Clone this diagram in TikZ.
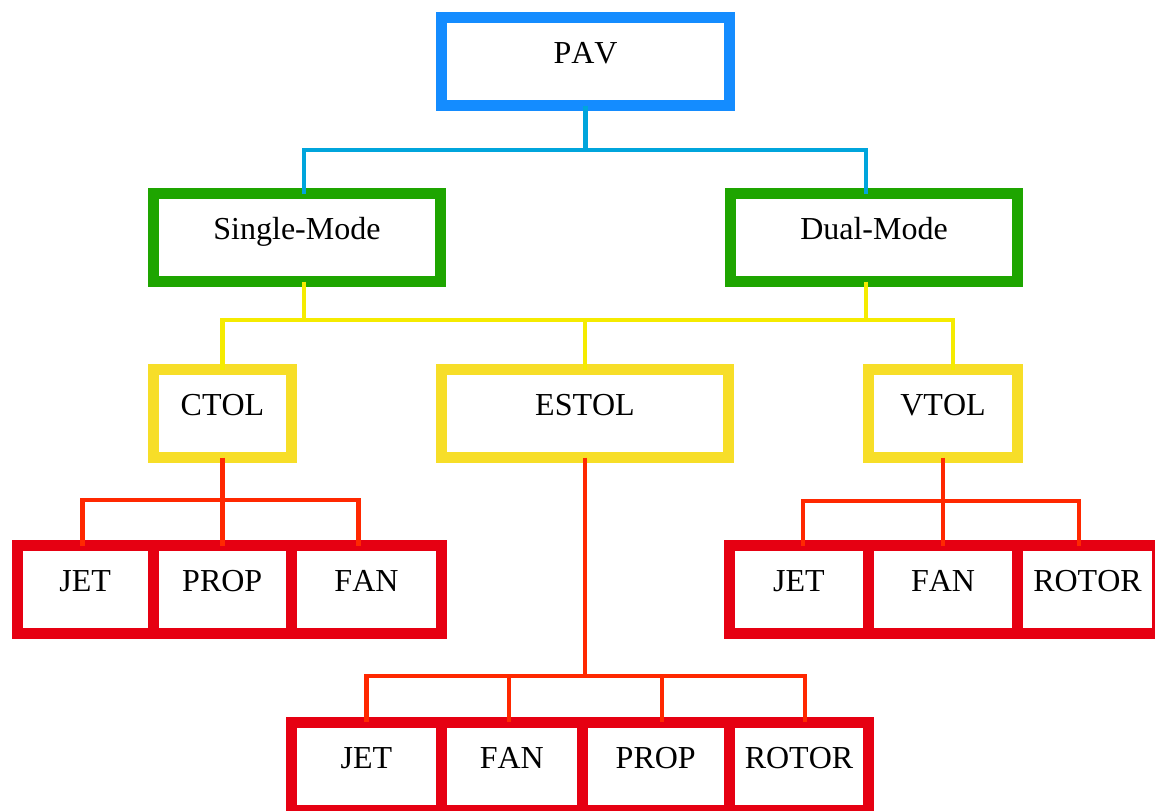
\documentclass[tikz,border=0pt]{standalone}
\usepackage{fontspec}
\setmainfont[Kerning=Off]{Liberation Serif}
\usetikzlibrary{positioning}
\definecolor{pavblue}{RGB}{20,140,255}
\definecolor{wireblue}{RGB}{0,165,220}
\definecolor{modegreen}{RGB}{30,165,0}
\definecolor{tolyellow}{RGB}{247,222,40}
\definecolor{wireyellow}{RGB}{245,235,0}
\definecolor{engred}{RGB}{230,0,18}
\definecolor{wirered}{RGB}{255,40,0}

\begin{document}
\begin{tikzpicture}[x=0.5pt,y=-0.5pt,
   box/.style={draw,line width=5.5pt,rectangle,minimum height=44pt,outer sep=0pt,inner sep=0pt,
      text height=10.6pt,text depth=8.5pt,font=\fontsize{16}{18}\selectfont},
   bluebox/.style={box,draw=pavblue},
   greenbox/.style={box,draw=modegreen},
   yellowbox/.style={box,draw=tolyellow},
   redbox/.style={box,draw=engred},
   wireB/.style={draw=wireblue,line width=2.25pt},
   wireY/.style={draw=wireyellow,line width=2.25pt},
   wireR/.style={draw=wirered,line width=2.25pt}]
   \useasboundingbox (0,0) rectangle (1155,810);
   \node[bluebox,minimum width=144pt] (PAV) at (585.5,61.5) {PAV};
   \node[greenbox,minimum width=143.5pt] (SM) at (297,237.5) {Single-Mode};
   \node[greenbox,minimum width=143.5pt] (DM) at (874,237.5) {Dual-Mode};
   \node[yellowbox,minimum width=69pt] (CTOL) at (222.5,413.5) {CTOL};
   \node[yellowbox,minimum width=143.5pt] (ESTOL) at (585,413.5) {ESTOL};
   \node[yellowbox,minimum width=74.5pt] (VTOL) at (943,413.5) {VTOL};
   % CTOL row
   \node[redbox,minimum width=67.75pt] (CJ) at (85.25,589.5) {JET};
   \node[redbox,minimum width=69.25pt] (CP) [right=0pt of CJ] {PROP};
   \node[redbox,minimum width=75pt] (CF) [right=0pt of CP] {FAN};
   % VTOL row
   \node[redbox,minimum width=69.5pt] (VJ) at (799,589.5) {JET};
   \node[redbox,minimum width=74.5pt] (VF) [right=0pt of VJ] {FAN};
   \node[redbox,minimum width=70pt] (VR) [right=0pt of VF] {ROTOR};
   % ESTOL row
   \node[redbox,minimum width=75pt] (EJ) at (366.5,766) {JET};
   \node[redbox,minimum width=70.25pt] (EF) [right=0pt of EJ] {FAN};
   \node[redbox,minimum width=73.75pt] (EP) [right=0pt of EF] {PROP};
   \node[redbox,minimum width=69.5pt] (ER) [right=0pt of EP] {ROTOR};

   \coordinate (SMin) at ([xshift=3.5pt]SM.north);
   \coordinate (SMout) at ([xshift=3.5pt]SM.south);
   \coordinate (DMin) at ([xshift=-4pt]DM.north);
   \coordinate (DMout) at ([xshift=-4pt]DM.south);
   \coordinate (VTOLin) at ([xshift=5pt]VTOL.north);
   \coordinate (CJin) at ([xshift=-1.5pt]CJ.north);
   \coordinate (CFin) at ([xshift=-4pt]CF.north);
   \coordinate (VJin) at ([xshift=2pt]VJ.north);
   \coordinate (VRin) at ([xshift=-4.25pt]VR.north);
   \coordinate (EFin) at ([xshift=-1.5pt]EF.north);
   \coordinate (EPin) at ([xshift=3pt]EP.north);
   \coordinate (ERin) at ([xshift=3pt]ER.north);

   \draw[wireB] (PAV.south) -- ++(0,44.5) coordinate (pbus);
   \draw[wireB] (SMin) |- (pbus) -| (DMin);

   \draw[wireY] (SMout) -- ++(0,38.5) coordinate (sbus);
   \draw[wireY] (DMout) -- (DMout |- sbus);
   \draw[wireY] (CTOL.north) |- (sbus) -| (VTOLin);
   \draw[wireY] (ESTOL.north |- sbus) -- (ESTOL.north);

   \draw[wireR] (CTOL.south) -- ++(0,42.5) coordinate (cbus);
   \draw[wireR] (CJin) |- (cbus) -| (CFin);
   \draw[wireR] (CP.north |- cbus) -- (CP.north);

   \draw[wireR] (VTOL.south) -- ++(0,43.5) coordinate (vbus);
   \draw[wireR] (VJin) |- (vbus) -| (VRin);
   \draw[wireR] (VF.north |- vbus) -- (VF.north);

   \draw[wireR] (ESTOL.south) -- ++(0,218.5) coordinate (ebus);
   \draw[wireR] (EJ.north) |- (ebus) -| (ERin);
   \draw[wireR] (EFin |- ebus) -- (EFin);
   \draw[wireR] (EPin |- ebus) -- (EPin);
\end{tikzpicture}
\end{document}
